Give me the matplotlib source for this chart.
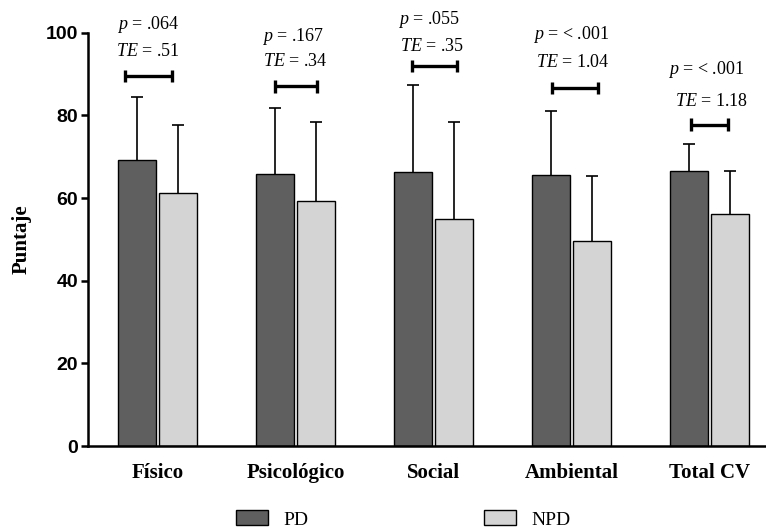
import numpy as np
import matplotlib.pyplot as plt
from matplotlib.patches import Patch

# datos
dominios = ["Físico", "Psicológico", "Social", "Ambiental", "Total CV"]
pd_media = [69.2, 65.8, 66.3, 65.6, 66.5]
pd_de = [15.2, 16.0, 21.0, 15.4, 6.5]
npd_media = [61.2, 59.3, 55.0, 49.6, 56.2]
npd_de = [16.6, 19.1, 23.3, 15.7, 10.4]
p_txt = [".064", ".167", ".055", "< .001", "< .001"]
te_txt = [".51", ".34", ".35", "1.04", "1.18"]
altura_barra = [89.6, 87.0, 92.0, 86.7, 77.8]   # altura de la linea de comparacion
y_p = [101.9, 99.0, 103.1, 99.5, 91.1]
y_te = [95.4, 93.0, 96.6, 92.8, 83.3]

plt.rcParams['mathtext.fontset'] = 'custom'
plt.rcParams['mathtext.rm'] = 'Liberation Serif'
plt.rcParams['mathtext.it'] = 'Liberation Serif:italic'

fig = plt.figure(figsize=(7.66, 5.28), dpi=100)
ax = fig.add_axes([0.115, 0.155, 0.885, 0.783])

x = np.arange(len(dominios))
ancho = 0.272
desp = 0.149
oscuro = "#5f5f5f"
claro = "#d4d4d4"

ax.bar(x - desp, pd_media, ancho, color=oscuro, edgecolor="black", linewidth=1.0, zorder=2)
ax.bar(x + desp, npd_media, ancho, color=claro, edgecolor="black", linewidth=1.0, zorder=2)

# barras de error solo hacia arriba
for xs, m, d in ((x - desp, pd_media, pd_de), (x + desp, npd_media, npd_de)):
    sup = np.array(m) + np.array(d)
    ax.vlines(xs, m, sup, color="black", lw=1.2, zorder=1)
    ax.plot(xs, sup, ls="none", marker="_", ms=8, mew=1.2, color="black", zorder=1)

# lineas de comparacion y textos
izq = [-0.236, -0.149, -0.156, -0.141, -0.134]
der = [0.105, 0.156, 0.170, 0.192, 0.134]
dx_p = [-0.069, -0.018, -0.033, 0.0, -0.025]
dx_te = [-0.069, 0.0, -0.011, 0.011, 0.018]
for i in range(len(dominios)):
    h = altura_barra[i]
    ax.plot([x[i] + izq[i], x[i] + der[i]], [h, h], color="black", lw=2.4,
            solid_capstyle="butt", clip_on=False)
    for xx in (x[i] + izq[i], x[i] + der[i]):
        ax.plot([xx, xx], [h - 1.5, h + 1.5], color="black", lw=2.4,
                solid_capstyle="butt", clip_on=False)
    ax.text(x[i] + dx_p[i], y_p[i], r"$\it{p}$ = " + p_txt[i], ha="center", va="center",
            fontsize=13, family="Liberation Serif", clip_on=False)
    ax.text(x[i] + dx_te[i], y_te[i], r"$\it{TE}$ = " + te_txt[i], ha="center", va="center",
            fontsize=13, family="Liberation Serif", clip_on=False)

ax.set_xlim(-0.504, 4.41)
ax.set_ylim(0, 100)
ax.set_yticks([0, 20, 40, 60, 80, 100])
ax.set_xticks(x)
ax.set_xticklabels(dominios, family="Liberation Serif", fontweight="bold", fontsize=15)
for t in ax.get_yticklabels():
    t.set_family("Liberation Sans")
    t.set_fontweight("bold")
    t.set_fontsize(14)
ax.tick_params(axis="x", length=0, pad=12)
ax.tick_params(axis="y", length=5, width=1.8, pad=2)
ax.spines["top"].set_visible(False)
ax.spines["right"].set_visible(False)
ax.spines["left"].set_linewidth(1.8)
ax.spines["bottom"].set_linewidth(1.8)
ax.set_ylabel("Puntaje", family="Liberation Serif", fontweight="bold", fontsize=15, labelpad=10)

manejadores = [Patch(facecolor=oscuro, edgecolor="black", label="PD"),
               Patch(facecolor=claro, edgecolor="black", label="NPD")]
fig.legend(handles=manejadores, loc="center left", bbox_to_anchor=(0.308, 0.016),
           ncol=2, frameon=False, borderaxespad=0, borderpad=0,
           handlelength=1.65, handleheight=0.8, handletextpad=0.8, columnspacing=9,
           prop={"family": "Liberation Serif", "size": 14})

fig.savefig("out.png", dpi=100)
